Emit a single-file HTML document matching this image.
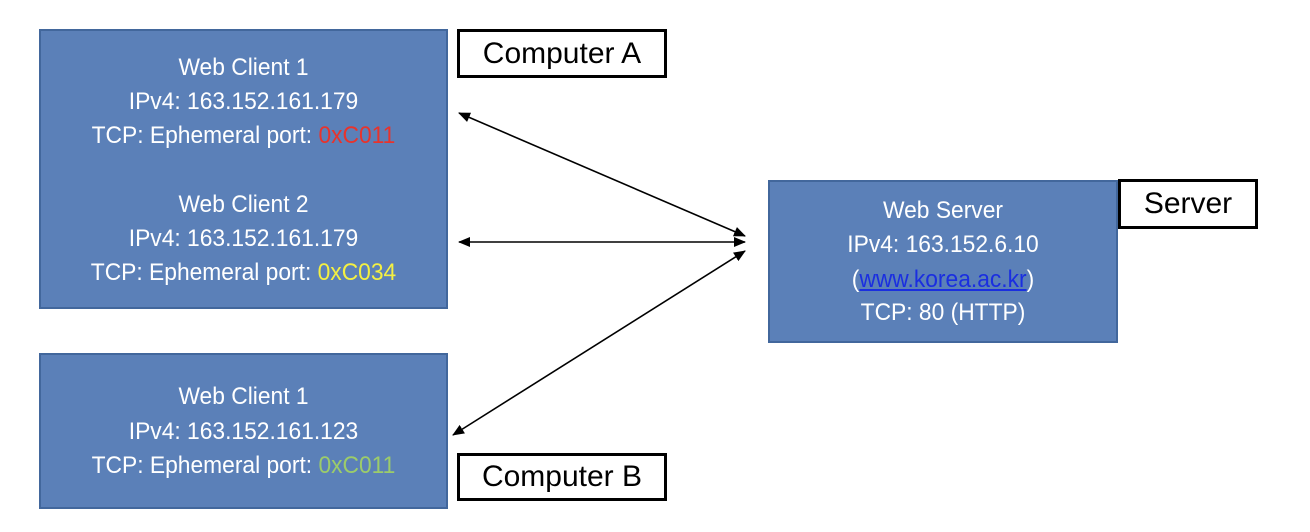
<!DOCTYPE html>
<html><head><style>
body{margin:0;width:1310px;height:532px;background:#fff;position:relative;font-family:"Liberation Sans",sans-serif;overflow:hidden}
.box{position:absolute;background:#5b80b8;border:2px solid #42679c;box-sizing:border-box;color:#fff;text-align:center;font-size:24px}
.box div{position:absolute;left:0;right:0;line-height:30px;transform:scaleX(0.95)}
.lbl{position:absolute;border:3px solid #000;box-sizing:border-box;background:#fff;font-size:30px;text-align:center;color:#000}
</style></head><body>
<div class="box" style="left:39px;top:29px;width:409px;height:280px">
<div style="top:22px">Web Client 1</div>
<div style="top:56px">IPv4: 163.152.161.179</div>
<div style="top:90px">TCP: Ephemeral port: <span style="color:#e8332c">0xC011</span></div>
<div style="top:159px">Web Client 2</div>
<div style="top:193px">IPv4: 163.152.161.179</div>
<div style="top:227px">TCP: Ephemeral port: <span style="color:#f4f042">0xC034</span></div>
</div>
<div class="box" style="left:39px;top:353px;width:409px;height:156px">
<div style="top:27px">Web Client 1</div>
<div style="top:62px">IPv4: 163.152.161.123</div>
<div style="top:96px">TCP: Ephemeral port: <span style="color:#9ccc6a">0xC011</span></div>
</div>
<div class="box" style="left:768px;top:180px;width:350px;height:163px">
<div style="top:14px">Web Server</div>
<div style="top:48px">IPv4: 163.152.6.10</div>
<div style="top:83px">(<span style="color:#1a2ee0;text-decoration:underline">www.korea.ac.kr</span>)</div>
<div style="top:116px">TCP: 80 (HTTP)</div>
</div>
<div class="lbl" style="left:457px;top:29px;width:210px;height:49px;line-height:43px">Computer A</div>
<div class="lbl" style="left:1118px;top:179px;width:140px;height:50px;line-height:44px">Server</div>
<div class="lbl" style="left:457px;top:453px;width:210px;height:48px;line-height:42px">Computer B</div>
<svg width="1310" height="532" style="position:absolute;left:0;top:0">
<defs><marker id="a" markerWidth="12" markerHeight="10" refX="11" refY="5" orient="auto-start-reverse" markerUnits="userSpaceOnUse"><path d="M0,0L12,5L0,10z" fill="#000"/></marker></defs>
<g stroke="#000" stroke-width="1.6" marker-start="url(#a)" marker-end="url(#a)">
<line x1="459" y1="113" x2="745" y2="236"/>
<line x1="459" y1="242" x2="745" y2="242"/>
<line x1="453" y1="435" x2="745" y2="251"/>
</g></svg>
</body></html>
